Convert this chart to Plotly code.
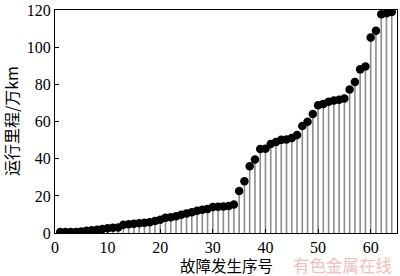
import plotly.graph_objects as go

seq = list(range(1, 65))
mileage = [0.5, 0.5, 0.5, 0.6, 0.8, 1.2, 1.5, 1.8, 2.2, 2.5, 2.8, 3.0,
           4.5, 4.7, 5.0, 5.2, 5.5, 5.8, 6.5, 7.2, 8.2, 8.5, 9.0, 9.8,
           10.5, 11.2, 12.0, 12.5, 13.0, 14.0, 14.2, 14.3, 14.5, 15.4,
           22.6, 27.9, 36.0, 39.6, 45.3, 45.4, 48.0, 49.1, 50.2, 50.4,
           51.2, 52.8, 57.7, 60.0, 64.2, 68.8, 69.6, 70.7, 71.4, 71.8,
           72.5, 77.4, 81.4, 88.2, 89.8, 105.4, 109.0, 117.9, 118.4, 119.1]
xticks = [0, 10, 20, 30, 40, 50, 60]
yticks = [0, 20, 40, 60, 80, 100, 120]

stem_x, stem_y = [], []
for x, y in zip(seq, mileage):
    stem_x += [x, x, None]
    stem_y += [0, y, None]

fig = go.Figure()
fig.add_trace(go.Scatter(x=stem_x, y=stem_y, mode="lines",
                         line=dict(color="#8c8c8c", width=1.6),
                         hoverinfo="skip", showlegend=False))
fig.add_trace(go.Scatter(x=seq, y=mileage, mode="markers",
                         marker=dict(color="black", size=8.5),
                         showlegend=False))

font_family = "Liberation Serif, Noto Sans CJK SC, serif"
axis_common = dict(showline=True, linecolor="black", linewidth=1.2, mirror=True,
                   ticks="inside", ticklen=4, tickcolor="black",
                   showgrid=False, zeroline=False, ticklabeloverflow="allow",
                   tickfont=dict(family=font_family, size=16, color="black"))
fig.update_xaxes(range=[0, 65], tickvals=xticks, ticklabelstandoff=0, **axis_common)
fig.update_yaxes(range=[0, 120.2], tickvals=yticks, **axis_common)

fig.update_layout(
    width=400, height=276,
    margin=dict(l=55, r=2, t=6, b=43),
    paper_bgcolor="white", plot_bgcolor="white",
    font=dict(family=font_family, color="black"),
    annotations=[
        dict(text="故障发生序号", x=0.5, y=-0.142, xref="paper", yref="paper",
             xanchor="center", yanchor="middle", showarrow=False,
             font=dict(family="Noto Sans CJK SC", size=15.5, color="black")),
        dict(text="运行里程/万km", x=-0.13, y=0.5, xref="paper", yref="paper",
             xanchor="center", yanchor="middle", showarrow=False, textangle=-90,
             font=dict(family="Noto Sans CJK SC, Liberation Serif", size=16, color="black")),
        dict(text="有色金属在线", x=0.99, y=-0.142, xref="paper", yref="paper",
             xanchor="right", yanchor="middle", showarrow=False,
             font=dict(family="Noto Sans CJK SC", size=16.5, color="#f5bcbc")),
    ],
)

fig.write_html("out.html")
